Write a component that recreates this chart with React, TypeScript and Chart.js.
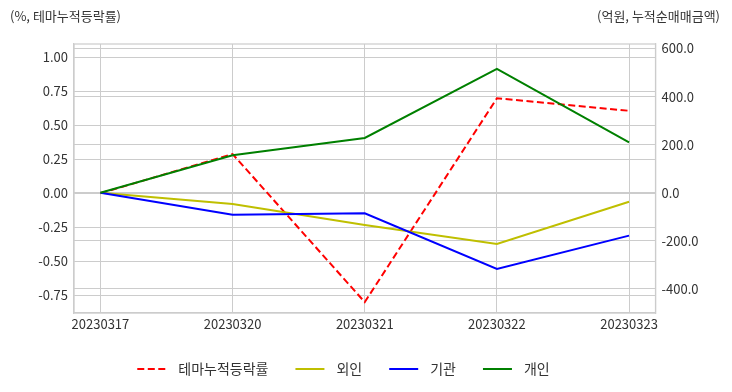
import React, { useEffect, useRef } from "react";
import { Chart, registerables } from "chart.js";

Chart.register(...registerables);

const categories = ["20230317", "20230320", "20230321", "20230322", "20230323"];
const themeReturn = [0, 0.289, -0.8, 0.699, 0.607];
const foreign = [0, -46.6, -134, -213, -37];
const institution = [0, -91, -85, -317, -178];
const individual = [0, 156, 228, 515, 210];
const leftTicks = [-0.75, -0.5, -0.25, 0, 0.25, 0.5, 0.75, 1.0];
const rightTicks = [-400, -200, 0, 200, 400, 600];
const leftTitle = "(%, 테마누적등락률)";
const rightTitle = "(억원, 누적순매매금액)";
const seriesNames = ["테마누적등락률", "외인", "기관", "개인"];
const seriesColors = ["#ff0000", "#bfbf00", "#0000ff", "#008000"];

const FONT = "'Noto Sans CJK KR', 'Noto Sans', sans-serif";
const GRID = "#cccccc";
const TEXT = "#333333";

export default function App() {
  const ref = useRef<HTMLCanvasElement | null>(null);

  useEffect(() => {
    document.body.style.margin = "0";
    const canvas = ref.current;
    if (!canvas) return;

    const toPts = (arr: number[]) => arr.map((v, i) => ({ x: i, y: v }));

    const decor = {
      id: "decor",
      afterDraw(chart: any) {
        const { ctx, chartArea } = chart;
        ctx.save();
        ctx.strokeStyle = GRID;
        ctx.lineWidth = 1.2;
        ctx.strokeRect(chartArea.left, chartArea.top, chartArea.right - chartArea.left, chartArea.bottom - chartArea.top);
        ctx.fillStyle = TEXT;
        ctx.font = `13px ${FONT}`;
        ctx.textBaseline = "middle";
        ctx.textAlign = "left";
        ctx.fillText(leftTitle, 10, 16);
        ctx.textAlign = "right";
        ctx.fillText(rightTitle, 720, 16);

        // legend
        ctx.font = `14px ${FONT}`;
        ctx.textAlign = "left";
        const lineLen = 29;
        const gap1 = 12;
        const gap2 = 27;
        const widths = seriesNames.map((n) => ctx.measureText(n).width);
        let total = 0;
        widths.forEach((w, i) => {
          total += lineLen + gap1 + w + (i < widths.length - 1 ? gap2 : 0);
        });
        let x = 343.5 - total / 2;
        const y = 369;
        seriesNames.forEach((n, i) => {
          ctx.beginPath();
          ctx.strokeStyle = seriesColors[i];
          ctx.lineWidth = 2;
          ctx.setLineDash(i === 0 ? [7, 3.5] : []);
          ctx.moveTo(x, y);
          ctx.lineTo(x + lineLen, y);
          ctx.stroke();
          ctx.setLineDash([]);
          ctx.fillStyle = TEXT;
          ctx.fillText(n, x + lineLen + gap1, y);
          x += lineLen + gap1 + widths[i] + gap2;
        });
        ctx.restore();
      },
    };

    const chart = new Chart(canvas, {
      type: "line",
      data: {
        datasets: [
          {
            label: seriesNames[0],
            data: toPts(themeReturn),
            yAxisID: "y",
            borderColor: seriesColors[0],
            borderDash: [7, 3.5],
            borderWidth: 2,
            pointRadius: 0,
            fill: false,
            order: 4,
          },
          {
            label: seriesNames[1],
            data: toPts(foreign),
            yAxisID: "y1",
            borderColor: seriesColors[1],
            borderWidth: 2,
            pointRadius: 0,
            fill: false,
            order: 3,
          },
          {
            label: seriesNames[2],
            data: toPts(institution),
            yAxisID: "y1",
            borderColor: seriesColors[2],
            borderWidth: 2,
            pointRadius: 0,
            fill: false,
            order: 2,
          },
          {
            label: seriesNames[3],
            data: toPts(individual),
            yAxisID: "y1",
            borderColor: seriesColors[3],
            borderWidth: 2,
            pointRadius: 0,
            fill: false,
            order: 1,
          },
        ],
      },
      options: {
        animation: false,
        responsive: false,
        maintainAspectRatio: false,
        layout: { padding: { top: 44, bottom: 49, left: 0, right: 0 } },
        plugins: { legend: { display: false }, tooltip: { enabled: false } },
        scales: {
          x: {
            type: "linear",
            min: -0.2,
            max: categories.length - 1 + 0.2,
            afterBuildTicks: (s: any) => {
              s.ticks = categories.map((_, i) => ({ value: i }));
            },
            afterFit: (s: any) => {
              s.height = 30;
            },
            ticks: {
              callback: (v: any) => categories[v as number] ?? "",
              color: TEXT,
              font: { family: FONT, size: 13 },
              padding: 3,
              maxRotation: 0,
              autoSkip: false,
            },
            grid: { color: GRID, lineWidth: 1, drawTicks: false },
            border: { color: GRID, width: 1.2 },
          },
          y: {
            type: "linear",
            position: "left",
            min: -0.88,
            max: 1.098,
            afterBuildTicks: (s: any) => {
              s.ticks = leftTicks.map((v) => ({ value: v }));
            },
            afterFit: (s: any) => {
              s.width = 74;
            },
            ticks: {
              callback: (v: any) => Number(v).toFixed(2),
              color: TEXT,
              font: { family: FONT, size: 13 },
              padding: 6,
            },
            grid: { color: GRID, lineWidth: 1, drawTicks: false },
            border: { color: GRID, width: 1.2 },
          },
          y1: {
            type: "linear",
            position: "right",
            min: -499.8,
            max: 618.7,
            afterBuildTicks: (s: any) => {
              s.ticks = rightTicks.map((v) => ({ value: v }));
            },
            afterFit: (s: any) => {
              s.width = 76.5;
            },
            ticks: {
              callback: (v: any) => Number(v).toFixed(1),
              color: TEXT,
              font: { family: FONT, size: 13 },
              padding: 6,
            },
            grid: { color: GRID, lineWidth: 1, drawTicks: false },
            border: { color: GRID, width: 1.2 },
          },
        },
      },
      plugins: [decor],
    });

    return () => chart.destroy();
  }, []);

  return (
    <div style={{ width: 732, height: 392 }}>
      <canvas ref={ref} width={732} height={392} style={{ display: "block", width: 732, height: 392 }} />
    </div>
  );
}
